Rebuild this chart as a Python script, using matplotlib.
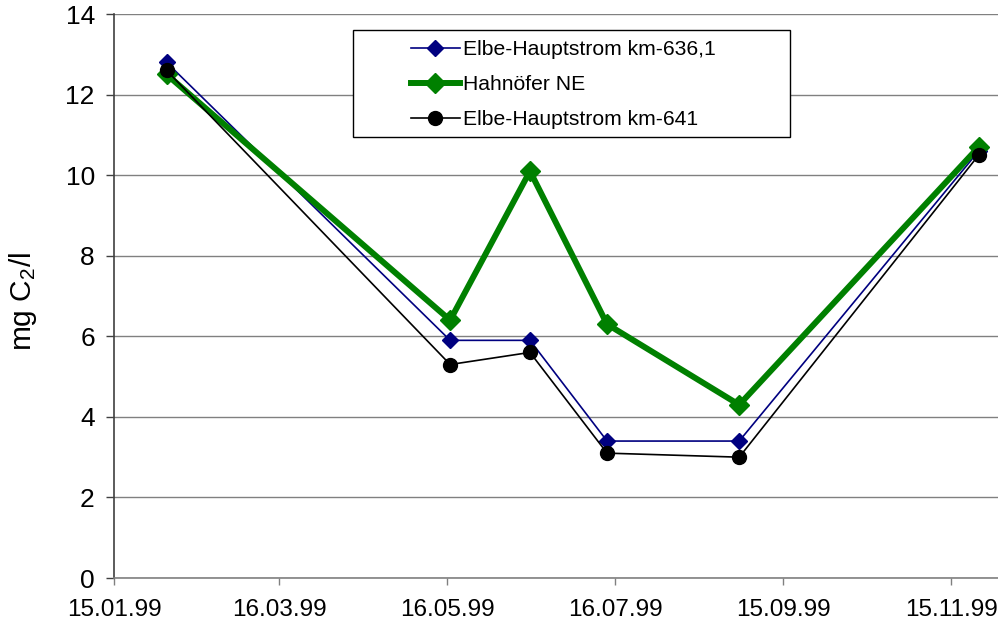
#!/usr/bin/env python3
# -*- coding: utf-8 -*-
"""Line chart: mg C2/l at three Elbe stations, 1999."""

from datetime import datetime

import matplotlib
matplotlib.use("Agg")
import matplotlib.pyplot as plt
import matplotlib.dates as mdates
from matplotlib.patches import Rectangle

plt.rcParams["font.family"] = ["Liberation Sans", "DejaVu Sans"]
plt.rcParams["mathtext.default"] = "regular"

# sampling dates (dd.mm.yy)
dates = ["03.02.99", "17.05.99", "15.06.99", "13.07.99", "30.08.99", "25.11.99"]
km636 = [12.8, 5.9, 5.9, 3.4, 3.4, 10.6]
hahnoefer = [12.5, 6.4, 10.1, 6.3, 4.3, 10.7]
km641 = [12.6, 5.3, 5.6, 3.1, 3.0, 10.5]

tick_dates = ["15.01.99", "16.03.99", "16.05.99", "16.07.99", "15.09.99", "15.11.99"]
x_end = "02.12.99"


def to_dt(s):
    return datetime.strptime(s, "%d.%m.%y")


x = [to_dt(d) for d in dates]

W, H = 998, 632
fig = plt.figure(figsize=(W / 100, H / 100), dpi=100)
ax = fig.add_axes([0.1145, 0.0854, 0.8855, 0.8924])

ax.plot(x, km636, color="#000080", lw=1.2, marker="D", ms=8,
        label="Elbe-Hauptstrom km-636,1", zorder=3)
ax.plot(x, hahnoefer, color="#008000", lw=4.3, marker="D", ms=10,
        label="Hahnöfer NE", zorder=4)
ax.plot(x, km641, color="black", lw=1.2, marker="o", ms=10,
        label="Elbe-Hauptstrom km-641", zorder=5)

ax.set_ylim(0, 14)
ax.set_yticks(range(0, 15, 2))
ax.set_xlim(to_dt(tick_dates[0]), to_dt(x_end))
ax.set_xticks([to_dt(d) for d in tick_dates])
ax.xaxis.set_major_formatter(mdates.DateFormatter("%d.%m.%y"))

ax.grid(axis="y", color="#808080", lw=1)
ax.set_axisbelow(True)
for side in ["top", "right"]:
    ax.spines[side].set_visible(False)
ax.spines["left"].set_color("#404040")
ax.spines["left"].set_linewidth(1.2)
ax.spines["bottom"].set_color("#808080")
ax.spines["bottom"].set_linewidth(1.2)

ax.tick_params(axis="y", direction="out", length=6, width=1, color="#404040",
               labelsize=19, pad=8)
ax.tick_params(axis="x", direction="out", length=5, width=1, color="#808080",
               labelsize=17.5, pad=10)

ax.set_ylabel("mg C$_2$/l", fontsize=21.5)
ax.yaxis.set_label_coords(-0.085, 0.49)

# legend box (Excel style, wide left padding)
frame = Rectangle((353 / W, 1 - 137 / H), (790 - 353) / W, (137 - 30) / H,
                  transform=fig.transFigure, facecolor="white",
                  edgecolor="black", lw=1, zorder=6, clip_on=False)
ax.add_patch(frame)

leg = ax.legend(loc="upper left", bbox_to_anchor=(411 / W, 1 - 40 / H),
                bbox_transform=fig.transFigure, fontsize=15.2, frameon=False,
                handlelength=2.32, handletextpad=0.15, labelspacing=0.76,
                borderpad=0, borderaxespad=0)
leg.set_zorder(7)

fig.savefig("out.png", dpi=100)
